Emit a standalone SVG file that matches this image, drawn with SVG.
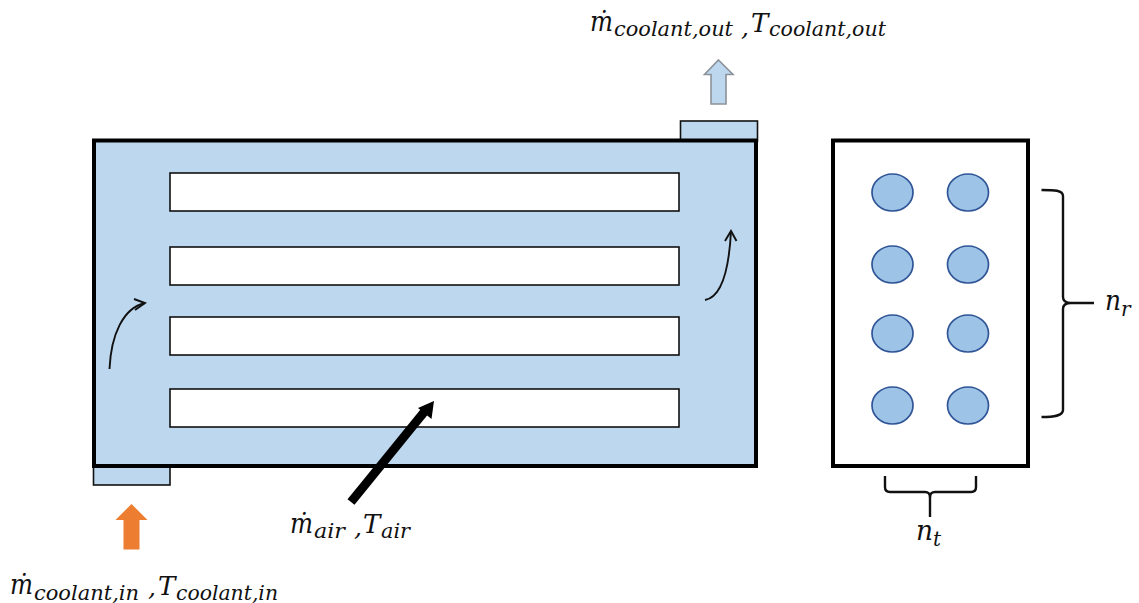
<svg xmlns="http://www.w3.org/2000/svg" width="1139" height="603" viewBox="0 0 1139 603">
<style>
.body{fill:#bdd7ee;stroke:#000;stroke-width:4}
.port{fill:#bdd7ee;stroke:#111;stroke-width:1.6}
.slot{fill:#fff;stroke:#111;stroke-width:1.6}
.tube{fill:#9dc3e6;stroke:#2f5597;stroke-width:1.7}
.flow{fill:none;stroke:#111;stroke-width:1.9}
.brace{fill:none;stroke:#111;stroke-width:2.4}
text{font-family:"DejaVu Serif","Liberation Serif",serif;font-style:italic;fill:#111}
.m{font-size:28px}
.c{font-size:25px}
.t{font-size:26px}
.s{font-size:20px}
</style>
<g id="coolant-out-port"><rect class="port" x="680.500" y="121" width="77" height="20"/></g>
<g id="coolant-in-port"><rect class="port" x="93.500" y="465" width="76.500" height="20"/></g>
<g id="core">
<rect class="body" x="94" y="140.500" width="662" height="325.500"/>
<rect class="slot" x="170" y="173" width="509" height="38"/>
<rect class="slot" x="170" y="247" width="509" height="38"/>
<rect class="slot" x="170" y="317" width="509" height="38"/>
<rect class="slot" x="170" y="389" width="509" height="38"/>
</g>
<g id="section">
<rect x="833" y="140.500" width="195" height="325.500" fill="#fff" stroke="#000" stroke-width="4"/>
<ellipse class="tube" cx="892.500" cy="192.500" rx="20.500" ry="18.500"/>
<ellipse class="tube" cx="968" cy="192.500" rx="20.500" ry="18.500"/>
<ellipse class="tube" cx="892.500" cy="264.500" rx="20.500" ry="18.500"/>
<ellipse class="tube" cx="968" cy="264.500" rx="20.500" ry="18.500"/>
<ellipse class="tube" cx="892.500" cy="333.500" rx="20.500" ry="18.500"/>
<ellipse class="tube" cx="968" cy="333.500" rx="20.500" ry="18.500"/>
<ellipse class="tube" cx="892.500" cy="405.500" rx="20.500" ry="18.500"/>
<ellipse class="tube" cx="968" cy="405.500" rx="20.500" ry="18.500"/>
</g>
<g id="connectors">
<path d="M718.500 60 L733 74.500 L726 74.500 L726 104 L711 104 L711 74.500 L704.500 74.500 Z" fill="#bdd7ee" stroke="#8c9299" stroke-width="1.6"/>
<path d="M131.500 504 L147.500 520 L139.500 520 L139.500 549.500 L123.500 549.500 L123.500 520 L115.500 520 Z" fill="#ed7d31"/>
<path d="M351 502 L425 411" fill="none" stroke="#000" stroke-width="9"/>
<path d="M434 401 L431.500 419 L418 408 Z" fill="#000"/>
<path class="flow" d="M109.500 369 C111 335 123 308 145 303"/>
<path class="flow" d="M134 299 L145 303 L135 310"/>
<path class="flow" d="M705 300 C722 297 729 270 731 231"/>
<path class="flow" d="M725 241 L731 231 L736.500 241"/>
<path class="brace" d="M1041.500 190 C1054 190 1063 190 1063 196 L1063 297 C1063 301 1066 303 1071 303 L1094 303 M1071 303 C1066 303 1063 305 1063 309 L1063 410 C1063 416 1054 417 1041.500 417"/>
<path class="brace" d="M885 476 L885 487 C885 491 887 492 890 492 L925 492 C928 492 930 493 930 498 L930 517 M930 498 C930 493 932 492 935 492 L971 492 C974 492 976 491 976 487 L976 476"/>
</g>
<g id="labels">
<text x="590" y="31" class="m" textLength="23" lengthAdjust="spacingAndGlyphs">ṁ</text><text x="614" y="36" class="s" textLength="119" lengthAdjust="spacingAndGlyphs">coolant,out</text><text x="741" y="36" class="c">,</text><text x="751" y="32" class="t">T</text><text x="769" y="36" class="s" textLength="117" lengthAdjust="spacingAndGlyphs">coolant,out</text>
<text x="10" y="594" class="m" textLength="23" lengthAdjust="spacingAndGlyphs">ṁ</text><text x="34" y="600" class="s" textLength="105" lengthAdjust="spacingAndGlyphs">coolant,in</text><text x="148" y="596" class="c">,</text><text x="158" y="595" class="t">T</text><text x="176" y="600" class="s" textLength="102" lengthAdjust="spacingAndGlyphs">coolant,in</text>
<text x="290" y="533" class="m" textLength="23" lengthAdjust="spacingAndGlyphs">ṁ</text><text x="314" y="538" class="s" textLength="31" lengthAdjust="spacingAndGlyphs">air</text><text x="354" y="536" class="c">,</text><text x="363" y="533" class="t">T</text><text x="381" y="538" class="s" textLength="29" lengthAdjust="spacingAndGlyphs">air</text>
<text x="916" y="540" class="m" textLength="17" lengthAdjust="spacingAndGlyphs">n</text><text x="933" y="546" class="s">t</text>
<text x="1105" y="310" class="m" textLength="16" lengthAdjust="spacingAndGlyphs">n</text><text x="1121" y="316" class="s">r</text>
</g>
</svg>
